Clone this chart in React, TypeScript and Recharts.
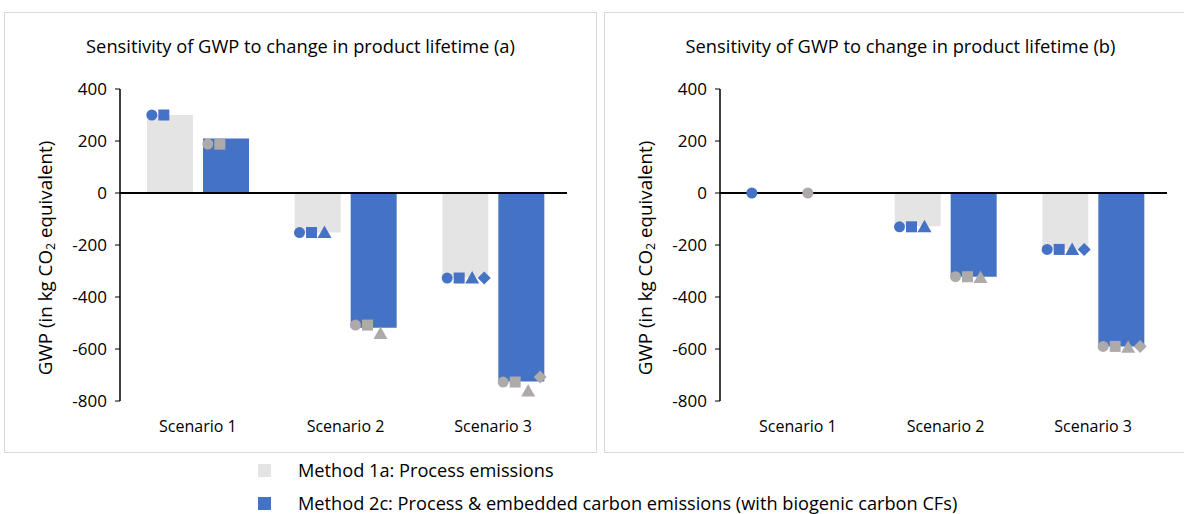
import React from 'react';
import { ComposedChart, Bar, Scatter, XAxis, YAxis, ReferenceLine } from 'recharts';

const scenarios = ['Scenario 1', 'Scenario 2', 'Scenario 3'];
const yTicks = [400, 200, 0, -200, -400, -600, -800];

// panel (a)
const aMethod1a = [300, -152, -325];
const aMethod2c = [210, -518, -725];
const aMarks1aCircle = [300, -152, -327];
const aMarks1aSquare = [300, -152, -327];
const aMarks1aTriangle = [null, -152, -327];
const aMarks1aDiamond = [null, null, -327];
const aMarks2cCircle = [188, -508, -727];
const aMarks2cSquare = [188, -508, -727];
const aMarks2cTriangle = [null, -540, -762];
const aMarks2cDiamond = [null, null, -708];

// panel (b)
const bMethod1a = [0, -128, -215];
const bMethod2c = [0, -322, -590];
const bMarks1aCircle = [0, -130, -217];
const bMarks1aSquare = [null, -130, -217];
const bMarks1aTriangle = [null, -130, -217];
const bMarks1aDiamond = [null, null, -217];
const bMarks2cCircle = [0, -322, -590];
const bMarks2cSquare = [null, -322, -590];
const bMarks2cTriangle = [null, -325, -593];
const bMarks2cDiamond = [null, null, -590];

const GREY_BAR = '#E4E4E4';
const BLUE = '#4472C4';
const GREY_MARK = '#AEAAAA';
const FONT = '"Open Sans", sans-serif';

const buildRows = (m1a: number[], m2c: number[], c1: any[], s1: any[], t1: any[], d1: any[], c2: any[], s2: any[], t2: any[], d2: any[]) =>
  scenarios.map((s, i) => ({
    scenario: s,
    m1a: m1a[i],
    m2c: m2c[i],
    c1: c1[i], s1: s1[i], t1: t1[i], d1: d1[i],
    c2: c2[i], s2: s2[i], t2: t2[i], d2: d2[i],
  }));

const dataA = buildRows(aMethod1a, aMethod2c, aMarks1aCircle, aMarks1aSquare, aMarks1aTriangle, aMarks1aDiamond,
  aMarks2cCircle, aMarks2cSquare, aMarks2cTriangle, aMarks2cDiamond);
const dataB = buildRows(bMethod1a, bMethod2c, bMarks1aCircle, bMarks1aSquare, bMarks1aTriangle, bMarks1aDiamond,
  bMarks2cCircle, bMarks2cSquare, bMarks2cTriangle, bMarks2cDiamond);

// marker shape, shifted horizontally from the category centre so it sits on its bar
const marker = (kind: string, key: string, dx: number, color: string) => (props: any) => {
  const { cx, cy, payload } = props;
  if (payload == null || payload[key] == null || cx == null || cy == null || isNaN(cx) || isNaN(cy)) return <g />;
  const x = cx + dx;
  const y = cy;
  if (kind === 'circle') return <circle cx={x} cy={y} r={5.5} fill={color} />;
  if (kind === 'square') return <rect x={x - 5.5} y={y - 5.5} width={11} height={11} fill={color} />;
  if (kind === 'triangle')
    return <polygon points={`${x},${y - 7} ${x - 7},${y + 5.5} ${x + 7},${y + 5.5}`} fill={color} />;
  return <polygon points={`${x},${y - 6.5} ${x + 6.5},${y} ${x},${y + 6.5} ${x - 6.5},${y}`} fill={color} />;
};

const markerSeries = [
  { key: 'c1', kind: 'circle', dx: -46, color: BLUE },
  { key: 's1', kind: 'square', dx: -34, color: BLUE },
  { key: 't1', kind: 'triangle', dx: -21, color: BLUE },
  { key: 'd1', kind: 'diamond', dx: -9, color: BLUE },
  { key: 'c2', kind: 'circle', dx: 10, color: GREY_MARK },
  { key: 's2', kind: 'square', dx: 22, color: GREY_MARK },
  { key: 't2', kind: 'triangle', dx: 35, color: GREY_MARK },
  { key: 'd2', kind: 'diamond', dx: 47, color: GREY_MARK },
];

const YLabel = (props: any) => {
  const { viewBox } = props;
  const x = viewBox.x - 5;
  const y = viewBox.y + viewBox.height / 2 + 13;
  return (
    <text x={x} y={y} transform={`rotate(-90, ${x}, ${y})`} textAnchor="middle" dominantBaseline="central"
      fontFamily={FONT} fontSize={18.8} fill="#000">
      GWP (in kg CO<tspan fontSize={12.5} dy={5}>2</tspan><tspan dy={-5}> equivalent)</tspan>
    </text>
  );
};

const Panel = ({ title, data, left }: { title: string; data: any[]; left: number }) => (
  <div style={{ position: 'absolute', left, top: 12, width: 593, height: 441, border: '1px solid #D9D9D9', boxSizing: 'border-box' }}>
    <div style={{ position: 'absolute', left: 0, top: 21, width: 591, textAlign: 'center', fontFamily: FONT, fontSize: 18.3, lineHeight: '24px', color: '#000' }}>
      {title}
    </div>
    <div style={{ position: 'absolute', left: 0, top: 0 }}>
      <ComposedChart width={591} height={439} data={data} margin={{ top: 76, right: 29, left: 45, bottom: 15 }}
        barSize={46} barGap={10}>
        <XAxis dataKey="scenario" type="category" axisLine={false} tickLine={false} height={36}
          padding={{ left: 4, right: 0 }} tick={{ fill: '#000', fontSize: 16, fontFamily: FONT }} tickMargin={14} />
        <YAxis type="number" domain={[-800, 400]} ticks={yTicks} interval={0} width={70}
          axisLine={{ stroke: '#000', strokeWidth: 1.5 }} tickLine={{ stroke: '#000' }} tickSize={5} tickMargin={8}
          tick={{ fill: '#000', fontSize: 17, fontFamily: FONT }} label={<YLabel />} />
        <Bar dataKey="m1a" fill={GREY_BAR} isAnimationActive={false} />
        <Bar dataKey="m2c" fill={BLUE} isAnimationActive={false} />
        <ReferenceLine y={0} stroke="#000" strokeWidth={2} />
        {markerSeries.map(m => (
          <Scatter key={m.key} dataKey={m.key} isAnimationActive={false}
            shape={marker(m.kind, m.key, m.dx, m.color)} />
        ))}
      </ComposedChart>
    </div>
  </div>
);

const LegendRow = ({ color, label, top }: { color: string; label: string; top: number }) => (
  <div style={{ position: 'absolute', left: 258, top, height: 22, display: 'flex', alignItems: 'center' }}>
    <div style={{ width: 13, height: 13, background: color }} />
    <div style={{ marginLeft: 27, fontFamily: FONT, fontSize: 18.2, color: '#000', whiteSpace: 'nowrap' }}>{label}</div>
  </div>
);

export default function App() {
  return (
    <div style={{ position: 'absolute', left: 0, top: 0, width: 1184, height: 514, overflow: 'hidden', background: '#fff' }}>
      <Panel title="Sensitivity of GWP to change in product lifetime (a)" data={dataA} left={4} />
      <Panel title="Sensitivity of GWP to change in product lifetime (b)" data={dataB} left={604} />
      <LegendRow color={GREY_BAR} label="Method 1a: Process emissions" top={459} />
      <LegendRow color={BLUE} label="Method 2c: Process & embedded carbon emissions (with biogenic carbon CFs)" top={492} />
    </div>
  );
}
